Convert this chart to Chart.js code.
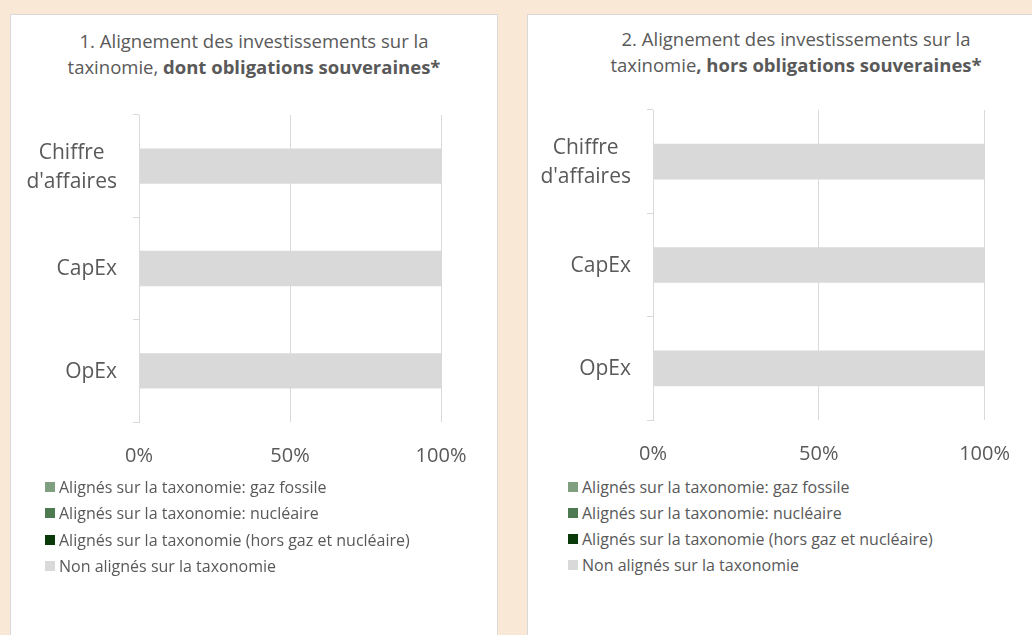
<!DOCTYPE html>
<html><head><meta charset="utf-8">
<script src="https://cdn.jsdelivr.net/npm/chart.js@4.4.1/dist/chart.umd.min.js"></script>
<style>
html,body{margin:0;padding:0}
body{width:1032px;height:635px;background:#FAE8D7;position:relative;overflow:hidden;font-family:'Open Sans',sans-serif;color:#595959}
.panel{position:absolute;background:#fff;border:1px solid #D9D9D9;box-sizing:border-box}
.title{position:absolute;text-align:center;font-size:18.5px;line-height:26px;white-space:nowrap;color:#595959}
.title b{font-weight:700}
canvas{position:absolute}
.legend{position:absolute;font-size:16px;color:#595959}
.legend .item{position:absolute;white-space:nowrap;height:20px;line-height:20px}
.legend .sw{position:absolute;width:10px;height:10px;top:5px;left:0}
.legend .tx{position:absolute;left:14px;top:0}
</style></head>
<body>
<div class="panel" style="left:10px;top:14px;width:488px;height:640px"></div>
<div class="panel" style="left:527px;top:14px;width:540px;height:640px"></div>
<div class="title" style="left:54px;width:400px;top:28px">1. Alignement des investissements sur la<br>taxinomie, <b>dont obligations souveraines*</b></div>
<div class="title" style="left:596px;width:400px;top:26px">2. Alignement des investissements sur la<br>taxinomie<b>, hors obligations souveraines*</b></div>
<canvas id="c1" width="488" height="385" style="left:10px;top:95px;width:488px;height:385px"></canvas>
<canvas id="c2" width="505" height="385" style="left:527px;top:90px;width:505px;height:385px"></canvas>
<div class="legend" id="lg1" style="left:45px;top:477px"></div>
<div class="legend" id="lg2" style="left:568px;top:477px"></div>
<script>
// ---- data ----
const categories = [['Chiffre', "d'affaires"], 'CapEx', 'OpEx'];
const seriesLabels = [
  'Alignés sur la taxonomie: gaz fossile',
  'Alignés sur la taxonomie: nucléaire',
  'Alignés sur la taxonomie (hors gaz et nucléaire)',
  'Non alignés sur la taxonomie'
];
const seriesColors = ['#7F9F80', '#4E7A51', '#0A3A0A', '#D9D9D9'];
const xTickValues = [0, 50, 100];
const xTickSuffix = '%';

// Chart 1: dont obligations souveraines
const c1GazFossile = [0, 0, 0];
const c1Nucleaire  = [0, 0, 0];
const c1HorsGazNuc = [0, 0, 0];
const c1NonAlignes = [100, 100, 100];
// Chart 2: hors obligations souveraines
const c2GazFossile = [0, 0, 0];
const c2Nucleaire  = [0, 0, 0];
const c2HorsGazNuc = [0, 0, 0];
const c2NonAlignes = [100, 100, 100];

Chart.defaults.font.family = "'Open Sans', sans-serif";
Chart.defaults.color = '#595959';

const yLabelPlugin = {
  id: 'yLabels',
  afterDraw(chart, args, opts) {
    const s = chart.scales.y, ctx = chart.ctx;
    ctx.save();
    ctx.font = opts.size + "px 'Open Sans', sans-serif";
    ctx.fillStyle = '#595959';
    ctx.textBaseline = 'middle';
    ctx.textAlign = 'center';
    s.getLabels().forEach((lab, i) => {
      const lines = Array.isArray(lab) ? lab : [lab];
      const w = Math.max(...lines.map(l => ctx.measureText(l).width));
      const cx = s.right - opts.gap - w / 2;
      const y0 = s.getPixelForValue(i) - (lines.length - 1) * opts.lineHeight / 2 + opts.dy;
      lines.forEach((l, k) => ctx.fillText(l, cx, y0 + k * opts.lineHeight));
    });
    ctx.restore();
  }
};

function makeChart(id, values, lay) {
  const datasets = values.map((v, i) => ({
    label: seriesLabels[i], data: v, backgroundColor: seriesColors[i],
    borderWidth: 0, categoryPercentage: 1, barPercentage: 0.345
  }));
  return new Chart(document.getElementById(id), {
    type: 'bar',
    data: { labels: categories, datasets },
    options: {
      indexAxis: 'y', responsive: false, animation: false,
      layout: { padding: { top: lay.top, right: lay.right, left: 0, bottom: 0 } },
      plugins: { legend: { display: false }, tooltip: { enabled: false },
        yLabels: { size: 21, gap: 22, lineHeight: 29, dy: 1 } },
      scales: {
        x: {
          stacked: true, min: 0, max: 100,
          afterBuildTicks: s => { s.ticks = xTickValues.map(v => ({ value: v })); },
          afterFit: s => { s.height = lay.xh; },
          ticks: { callback: v => v + xTickSuffix, font: { size: 20 }, color: '#595959', padding: lay.pad, maxRotation: 0 },
          grid: { color: '#D9D9D9', drawTicks: false, lineWidth: 1 },
          border: { display: false }
        },
        y: {
          stacked: true,
          afterFit: s => { s.width = lay.yw; },
          ticks: { display: false },
          grid: { drawOnChartArea: false, drawTicks: true, tickLength: 6, color: '#D9D9D9', offset: true },
          border: { display: true, color: '#D9D9D9', width: 1 }
        }
      }
    },
    plugins: [yLabelPlugin]
  });
}

makeChart('c1', [c1GazFossile, c1Nucleaire, c1HorsGazNuc, c1NonAlignes], { top: 20, right: 57, xh: 58, yw: 129, pad: 22 });
makeChart('c2', [c2GazFossile, c2Nucleaire, c2HorsGazNuc, c2NonAlignes], { top: 20, right: 47, xh: 55, yw: 126, pad: 22 });

function buildLegend(id, rows) {
  const el = document.getElementById(id);
  seriesLabels.forEach((lab, i) => {
    const it = document.createElement('div');
    it.className = 'item';
    it.style.top = rows[i] + 'px';
    it.innerHTML = '<span class="sw" style="background:' + seriesColors[i] + '"></span><span class="tx"></span>';
    it.querySelector('.tx').textContent = lab;
    el.appendChild(it);
  });
}
buildLegend('lg1', [0, 26, 53, 79]);
buildLegend('lg2', [0, 26, 52, 78]);
</script>
</body></html>
